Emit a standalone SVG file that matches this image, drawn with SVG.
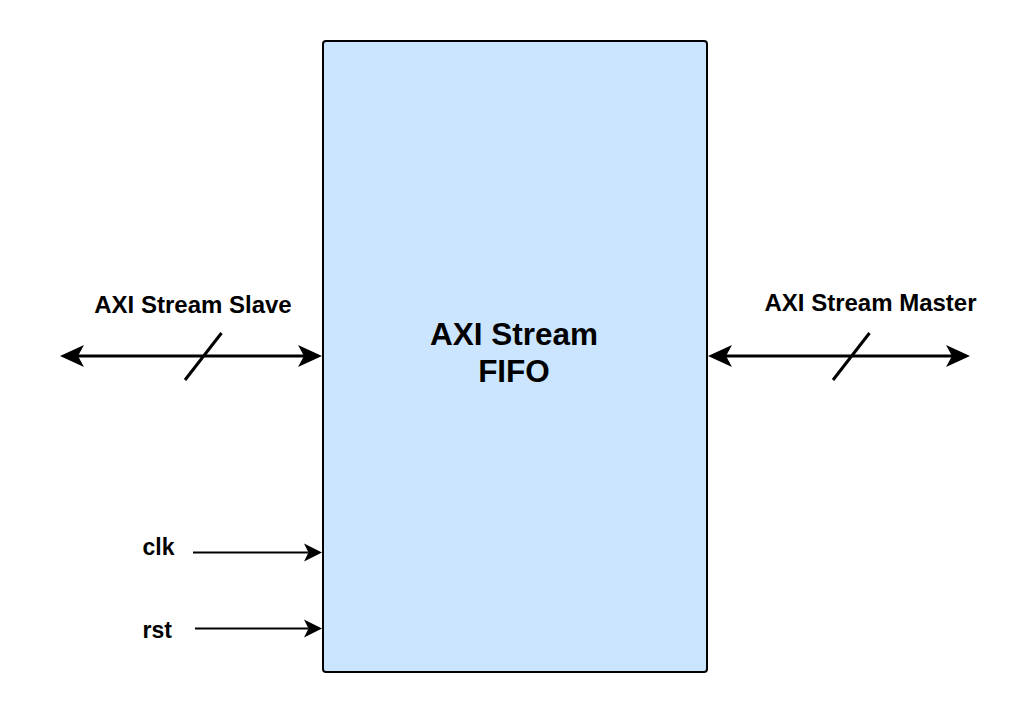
<svg xmlns="http://www.w3.org/2000/svg" width="1034" height="714" viewBox="0 0 1034 714">
  <defs>
    <style>
      .lbl { font-family: "Liberation Sans", Arial, Helvetica, sans-serif; font-weight: bold; fill: #000; }
      .bus { stroke: #000; stroke-width: 3; fill: none; }
      .sig { stroke: #000; stroke-width: 2; fill: none; }
    </style>
    <marker id="bigArrow" markerUnits="userSpaceOnUse" markerWidth="25" markerHeight="24" viewBox="0 0 25 24" refX="6" refY="12" orient="auto-start-reverse">
      <path d="M0,1 L24,12 L0,23 L6,12 Z" fill="#000"/>
    </marker>
    <marker id="smallArrow" markerUnits="userSpaceOnUse" markerWidth="19" markerHeight="19" viewBox="0 0 19 19" refX="4.5" refY="9.5" orient="auto">
      <path d="M0,0.5 L18,9.5 L0,18.5 L4.5,9.5 Z" fill="#000"/>
    </marker>
  </defs>
  <rect width="1034" height="714" fill="#ffffff"/>

  <g id="fifo">
    <rect x="323" y="41" width="384" height="631" rx="3" ry="3" fill="#cce5ff" stroke="#000" stroke-width="2"/>
    <text class="lbl" x="514" y="345" font-size="31.5" text-anchor="middle">AXI Stream</text>
    <text class="lbl" x="514" y="382" font-size="31.5" text-anchor="middle">FIFO</text>
  </g>

  <g id="slave-label">
    <text class="lbl" x="193" y="313" font-size="24" text-anchor="middle">AXI Stream Slave</text>
  </g>
  <g id="master-label">
    <text class="lbl" x="870.5" y="311" font-size="24" text-anchor="middle">AXI Stream Master</text>
  </g>
  <g id="clk-label">
    <text class="lbl" x="142.5" y="555" font-size="23">clk</text>
  </g>
  <g id="rst-label">
    <text class="lbl" x="142.5" y="638" font-size="23">rst</text>
  </g>

  <g id="connectors">
    <line class="bus" x1="78" y1="356" x2="304" y2="356" marker-start="url(#bigArrow)" marker-end="url(#bigArrow)"/>
    <line class="bus" x1="185" y1="380" x2="221.5" y2="333"/>
    <line class="bus" x1="726" y1="356" x2="952" y2="356" marker-start="url(#bigArrow)" marker-end="url(#bigArrow)"/>
    <line class="bus" x1="833" y1="380" x2="869.5" y2="333"/>
    <line class="sig" x1="193" y1="552.5" x2="308.5" y2="552.5" marker-end="url(#smallArrow)"/>
    <line class="sig" x1="195" y1="628.5" x2="308.5" y2="628.5" marker-end="url(#smallArrow)"/>
  </g>
</svg>
